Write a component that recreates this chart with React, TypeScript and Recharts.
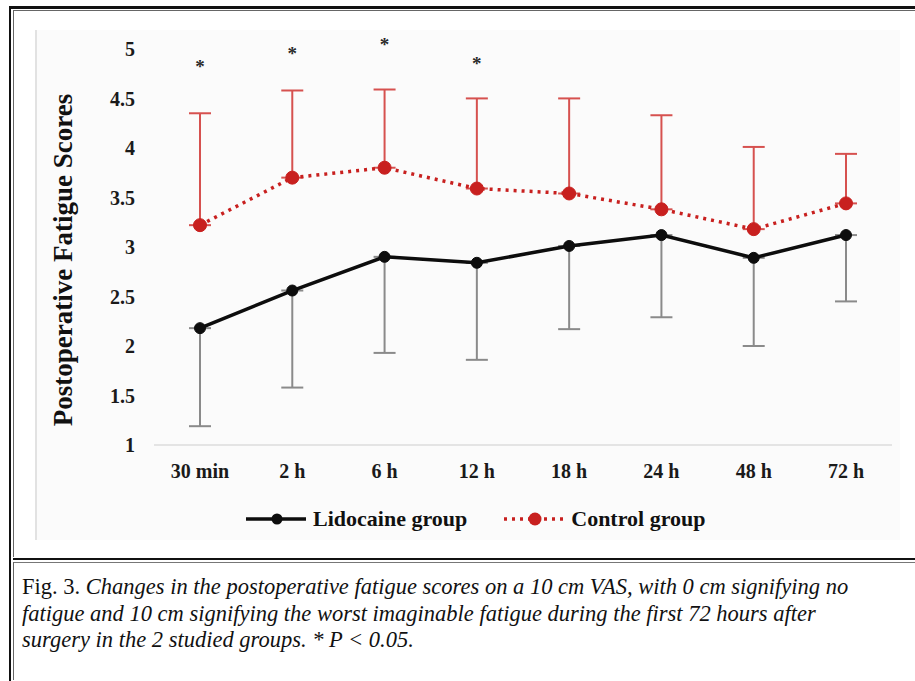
import React from 'react';
import { LineChart, Line, XAxis, YAxis, ErrorBar, Legend } from 'recharts';

// time points after surgery
const categories = ['30 min', '2 h', '6 h', '12 h', '18 h', '24 h', '48 h', '72 h'];

// mean fatigue scores + error bar ends
const lidocaine = [2.18, 2.56, 2.9, 2.84, 3.01, 3.12, 2.89, 3.12];
const lidocaineLow = [1.19, 1.58, 1.93, 1.86, 2.17, 2.29, 2.0, 2.45];
const control = [3.22, 3.7, 3.8, 3.59, 3.54, 3.38, 3.18, 3.44];
const controlHigh = [4.35, 4.58, 4.59, 4.5, 4.5, 4.33, 4.01, 3.94];

// significance markers (* P < 0.05) and the score level they sit at
const significance = ['*', '*', '*', '*', '', '', '', ''];
const starLevel = [4.86, 4.99, 5.08, 4.89, null, null, null, null];

const yTicks = [1, 1.5, 2, 2.5, 3, 3.5, 4, 4.5, 5];
const legendOrder = ['lidocaine', 'control'];

const RED = '#c8201f';
const RED_ERR = '#d6514f';
const BLACK = '#0d0d0d';
const GREY_ERR = '#8a8a8a';
const SERIF = 'Liberation Serif, serif';

const data = categories.map((time, i) => ({
    time,
    lidocaine: lidocaine[i],
    lidoErr: [+(lidocaine[i] - lidocaineLow[i]).toFixed(2), 0],
    control: control[i],
    ctrlErr: [0, +(controlHigh[i] - control[i]).toFixed(2)],
    star: significance[i] ? starLevel[i] : null,
    mark: significance[i],
}));

const StarDot = (props: any) => {
    const { cx, cy, index, payload } = props;
    if (cy == null || !payload || !payload.mark) return <g key={`s-${index}`} />;
    return (
        <text
            key={`s-${index}`}
            x={cx}
            y={cy + 10}
            textAnchor="middle"
            fontFamily={SERIF}
            fontWeight="bold"
            fontSize={19}
            fill="#2a2a2a"
        >
            {payload.mark}
        </text>
    );
};

const LegendContent = (props: any) => {
    const items = (props.payload || [])
        .filter((p: any) => p.type !== 'none')
        .sort((a: any, b: any) => legendOrder.indexOf(a.dataKey) - legendOrder.indexOf(b.dataKey));
    return (
        <div style={{ display: 'flex', alignItems: 'center', paddingLeft: 210 }}>
            {items.map((item: any, i: number) => {
                const dotted = item.dataKey === 'control';
                return (
                    <div
                        key={item.value}
                        style={{ display: 'flex', alignItems: 'center', marginLeft: i === 0 ? 0 : 36 }}
                    >
                        <svg width={62} height={20}>
                            <line
                                x1={1}
                                y1={10}
                                x2={61}
                                y2={10}
                                stroke={item.color}
                                strokeWidth={3.5}
                                strokeDasharray={dotted ? '3 5' : undefined}
                            />
                            <circle cx={32} cy={10} r={dotted ? 6.5 : 5.5} fill={item.color} />
                        </svg>
                        <span
                            style={{
                                marginLeft: 6,
                                fontFamily: SERIF,
                                fontWeight: 'bold',
                                fontSize: 22,
                                color: '#111',
                            }}
                        >
                            {item.value}
                        </span>
                    </div>
                );
            })}
        </div>
    );
};

const YLabel = (props: any) => {
    const { viewBox } = props;
    const cx = viewBox.x + 28;
    const cy = viewBox.y + viewBox.height / 2 + 18;
    return (
        <text
            x={cx}
            y={cy}
            transform={`rotate(-90, ${cx}, ${cy})`}
            textAnchor="middle"
            dominantBaseline="central"
            fontFamily={SERIF}
            fontWeight="bold"
            fontSize={27}
            fill="#111"
        >
            Postoperative Fatigue Scores
        </text>
    );
};

export default function App() {
    const tickStyle = { fontFamily: SERIF, fontWeight: 'bold', fontSize: 20, fill: '#1a1a1a' };
    return (
        <div
            style={{
                position: 'absolute',
                left: 0,
                top: 0,
                width: 915,
                height: 681,
                overflow: 'hidden',
                background: '#fff',
            }}
        >
            {/* outer frame */}
            <div
                style={{
                    position: 'absolute',
                    left: 9,
                    top: 6,
                    width: 930,
                    height: 672,
                    borderTop: '3px solid #111',
                    borderLeft: '2px solid #111',
                    borderBottom: '2px solid #111',
                }}
            />
            <div
                style={{
                    position: 'absolute',
                    left: 13,
                    top: 10,
                    width: 930,
                    height: 546,
                    borderTop: '1px solid #666',
                    borderLeft: '1px solid #666',
                }}
            />
            {/* separator between chart and caption */}
            <div style={{ position: 'absolute', left: 13, top: 558, width: 910, height: 2, background: '#111' }} />
            <div style={{ position: 'absolute', left: 13, top: 562, width: 910, height: 1, background: '#777' }} />
            <div style={{ position: 'absolute', left: 13, top: 562, width: 1, height: 118, background: '#666' }} />

            {/* chart panel */}
            <div
                style={{
                    position: 'absolute',
                    left: 35,
                    top: 30,
                    width: 865,
                    height: 510,
                    background: '#fbfbfb',
                    borderLeft: '2px solid #e2e2e2',
                    boxSizing: 'border-box',
                }}
            />
            <div style={{ position: 'absolute', left: 35, top: 30 }}>
                <LineChart width={865} height={510} data={data} margin={{ top: 9, right: 8, bottom: 0, left: 0 }}>
                    <XAxis
                        dataKey="time"
                        height={95}
                        padding={{ left: 46, right: 46 }}
                        axisLine={{ stroke: '#dcdcdc', strokeWidth: 1.5 }}
                        tickLine={false}
                        tickSize={0}
                        tickMargin={19}
                        tick={tickStyle}
                        interval={0}
                    />
                    <YAxis
                        width={119}
                        domain={[1, 5.1]}
                        ticks={yTicks}
                        axisLine={false}
                        tickLine={false}
                        tickSize={0}
                        tickMargin={19}
                        tick={tickStyle}
                        label={<YLabel />}
                    />
                    <Legend
                        layout="horizontal"
                        verticalAlign="middle"
                        align="center"
                        wrapperStyle={{ top: 476, left: 0, width: 865 }}
                        content={<LegendContent />}
                    />
                    <Line
                        dataKey="lidocaine"
                        name="Lidocaine group"
                        stroke={BLACK}
                        strokeWidth={3.5}
                        dot={{ r: 5.5, fill: BLACK, stroke: BLACK, strokeWidth: 1 }}
                        activeDot={false}
                        isAnimationActive={false}
                    >
                        <ErrorBar dataKey="lidoErr" direction="y" width={11} stroke={GREY_ERR} strokeWidth={2} />
                    </Line>
                    <Line
                        dataKey="control"
                        name="Control group"
                        stroke={RED}
                        strokeWidth={3.5}
                        strokeDasharray="3 5"
                        dot={{ r: 6.5, fill: RED, stroke: RED, strokeWidth: 1, strokeDasharray: '' }}
                        activeDot={false}
                        isAnimationActive={false}
                    >
                        <ErrorBar dataKey="ctrlErr" direction="y" width={11} stroke={RED_ERR} strokeWidth={2} />
                    </Line>
                    <Line
                        dataKey="star"
                        stroke="none"
                        legendType="none"
                        dot={<StarDot />}
                        activeDot={false}
                        isAnimationActive={false}
                    />
                </LineChart>
            </div>

            {/* figure caption */}
            <div
                style={{
                    position: 'absolute',
                    left: 22,
                    top: 574,
                    fontFamily: SERIF,
                    fontSize: 22.5,
                    lineHeight: '26.5px',
                    color: '#111',
                    whiteSpace: 'nowrap',
                }}
            >
                Fig. 3.{' '}
                <i>
                    Changes in the postoperative fatigue scores on a 10 cm VAS, with 0 cm signifying no
                    <br />
                    fatigue and 10 cm signifying the worst imaginable fatigue during the first 72 hours after
                    <br />
                    surgery in the 2 studied groups. * P &lt; 0.05.
                </i>
            </div>
        </div>
    );
}
